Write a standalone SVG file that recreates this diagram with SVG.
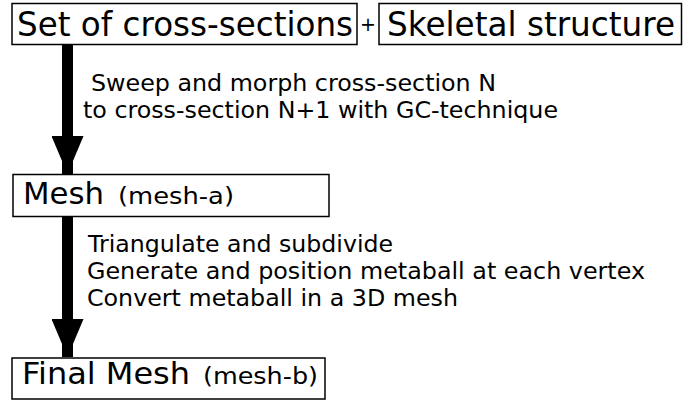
<svg xmlns="http://www.w3.org/2000/svg" width="696" height="403" viewBox="0 0 696 403">
<style>
.box{fill:#fff;stroke:#000;stroke-width:1.5}
text{font-family:"DejaVu Sans",sans-serif;fill:#000}
.big{font-size:33px}
.mid{font-size:31px}
.sm{font-size:23px}
.lbl{font-size:23.5px}
</style>
<defs>
<marker id="ah" markerUnits="userSpaceOnUse" markerWidth="40" markerHeight="32" refX="38" refY="16" orient="auto">
<path d="M0,0 L38,16 L0,32 Z" fill="#000"/>
</marker>
</defs>
<g id="connectors">
<line x1="67.5" y1="44.5" x2="67.5" y2="174" stroke="#000" stroke-width="11" marker-end="url(#ah)"/>
<line x1="67.5" y1="216" x2="67.5" y2="357" stroke="#000" stroke-width="11" marker-end="url(#ah)"/>
<text class="lbl" x="91" y="90.5" textLength="405" lengthAdjust="spacingAndGlyphs">Sweep and morph cross-section N</text>
<text class="lbl" x="83" y="117.5" textLength="475" lengthAdjust="spacingAndGlyphs">to cross-section N+1 with GC-technique</text>
<text class="lbl" x="88" y="251.5" textLength="305" lengthAdjust="spacingAndGlyphs">Triangulate and subdivide</text>
<text class="lbl" x="87" y="279" textLength="558" lengthAdjust="spacingAndGlyphs">Generate and position metaball at each vertex</text>
<text class="lbl" x="87" y="306" textLength="371" lengthAdjust="spacingAndGlyphs">Convert metaball in a 3D mesh</text>
</g>
<g id="node-cross-sections">
<rect class="box" x="12" y="3.5" width="345" height="41"/>
<text class="big" x="17" y="35.5" textLength="336" lengthAdjust="spacingAndGlyphs">Set of cross-sections</text>
</g>
<g id="plus">
<text x="368" y="31" font-size="19" text-anchor="middle">+</text>
</g>
<g id="node-skeletal">
<rect class="box" x="379" y="3.5" width="302.5" height="41"/>
<text class="big" x="387" y="35.5" textLength="288" lengthAdjust="spacingAndGlyphs">Skeletal structure</text>
</g>
<g id="node-mesh">
<rect class="box" x="13" y="174.5" width="316" height="42"/>
<text x="23" y="204"><tspan class="mid" textLength="81" lengthAdjust="spacingAndGlyphs">Mesh</tspan><tspan class="sm" x="118" textLength="116" lengthAdjust="spacingAndGlyphs">(mesh-a)</tspan></text>
</g>
<g id="node-final">
<rect class="box" x="12" y="358" width="313" height="41"/>
<text x="22" y="384"><tspan class="mid" textLength="168" lengthAdjust="spacingAndGlyphs">Final Mesh</tspan><tspan class="sm" x="203" textLength="115" lengthAdjust="spacingAndGlyphs">(mesh-b)</tspan></text>
</g>
</svg>
